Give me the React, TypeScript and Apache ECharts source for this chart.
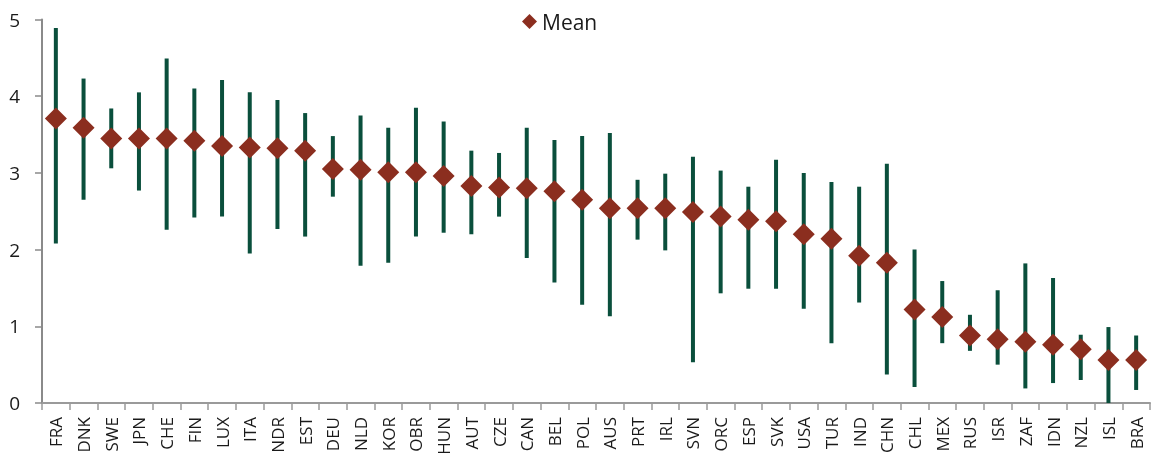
import React, { useEffect, useRef } from "react";
import * as echarts from "echarts";

const categories = [
  "FRA", "DNK", "SWE", "JPN", "CHE", "FIN", "LUX", "ITA", "NDR", "EST",
  "DEU", "NLD", "KOR", "OBR", "HUN", "AUT", "CZE", "CAN", "BEL", "POL",
  "AUS", "PRT", "IRL", "SVN", "ORC", "ESP", "SVK", "USA", "TUR", "IND",
  "CHN", "CHL", "MEX", "RUS", "ISR", "ZAF", "IDN", "NZL", "ISL", "BRA",
];

const meanValues = [
  3.71, 3.59, 3.45, 3.45, 3.45, 3.42, 3.35, 3.33, 3.32, 3.29,
  3.05, 3.04, 3.01, 3.01, 2.96, 2.83, 2.81, 2.80, 2.76, 2.65,
  2.54, 2.54, 2.54, 2.49, 2.43, 2.39, 2.37, 2.20, 2.14, 1.92,
  1.83, 1.22, 1.12, 0.88, 0.83, 0.80, 0.76, 0.70, 0.56, 0.56,
];

const lowValues = [
  2.08, 2.65, 3.06, 2.77, 2.26, 2.42, 2.43, 1.95, 2.27, 2.17,
  2.69, 1.79, 1.83, 2.17, 2.22, 2.20, 2.43, 1.89, 1.57, 1.28,
  1.13, 2.13, 1.99, 0.53, 1.43, 1.49, 1.49, 1.23, 0.78, 1.31,
  0.37, 0.21, 0.78, 0.68, 0.50, 0.19, 0.26, 0.30, 0.0, 0.17,
];

const highValues = [
  4.89, 4.23, 3.84, 4.05, 4.49, 4.10, 4.21, 4.05, 3.95, 3.78,
  3.48, 3.75, 3.59, 3.85, 3.67, 3.29, 3.26, 3.59, 3.43, 3.48,
  3.52, 2.91, 2.99, 3.21, 3.03, 2.82, 3.17, 3.00, 2.88, 2.82,
  3.12, 2.00, 1.59, 1.15, 1.47, 1.82, 1.63, 0.89, 0.99, 0.88,
];

const yTicks = { min: 0, max: 5, interval: 1 };

const GREEN = "#0a4f3c";
const RED = "#8b2e1f";
const FONT = "'Open Sans', 'Noto Sans', sans-serif";

export default function App() {
  const ref = useRef<HTMLDivElement>(null);

  useEffect(() => {
    if (!ref.current) return;
    const chart = echarts.init(ref.current, undefined, { renderer: "svg" });
    const rangeData = categories.map((_, i) => [i, lowValues[i], highValues[i]]);

    chart.setOption({
      animation: false,
      textStyle: { fontFamily: FONT },
      legend: {
        data: [{ name: "Mean", icon: "diamond" }],
        left: 517,
        top: 6,
        itemWidth: 15,
        itemHeight: 15,
        itemGap: 5,
        textStyle: { fontSize: 21, color: "#1a1a1a", fontFamily: FONT },
      },
      grid: {
        left: 42,
        right: 1,
        top: 19.5,
        bottom: 50,
        containLabel: false,
        outerBoundsMode: "none",
      },
      xAxis: {
        type: "category",
        data: categories,
        boundaryGap: true,
        axisLine: { lineStyle: { color: "#9a9a9a", width: 2 } },
        axisTick: { show: true, length: 7, inside: false, lineStyle: { color: "#9a9a9a", width: 1.5 } },
        axisLabel: {
          rotate: 90,
          interval: 0,
          margin: 14,
          fontSize: 17,
          color: "#1a1a1a",
          fontFamily: FONT,
        },
        splitLine: { show: false },
      },
      yAxis: {
        type: "value",
        min: yTicks.min,
        max: yTicks.max,
        interval: yTicks.interval,
        axisLine: { show: true, lineStyle: { color: "#8a8a8a", width: 2 } },
        axisTick: { show: true, length: 7, lineStyle: { color: "#8a8a8a", width: 1.5 } },
        axisLabel: { fontSize: 19, color: "#1a1a1a", margin: 22, fontFamily: FONT },
        splitLine: { show: false },
      },
      series: [
        {
          type: "custom",
          name: "Range",
          data: rangeData,
          encode: { x: 0, y: [1, 2] },
          z: 2,
          renderItem: (params: any, api: any) => {
            const x = api.value(0);
            const lo = api.coord([x, api.value(1)]);
            const hi = api.coord([x, api.value(2)]);
            return {
              type: "line",
              shape: { x1: lo[0], y1: lo[1], x2: hi[0], y2: hi[1] },
              style: { stroke: GREEN, lineWidth: 4 },
            };
          },
        },
        {
          type: "scatter",
          name: "Mean",
          data: meanValues,
          symbol: "diamond",
          symbolSize: 22,
          itemStyle: { color: RED, opacity: 1 },
          z: 3,
        },
      ],
    });

    return () => chart.dispose();
  }, []);

  return (
    <div
      ref={ref}
      style={{ position: "fixed", left: 0, top: 0, width: 1151, height: 453 }}
    />
  );
}
